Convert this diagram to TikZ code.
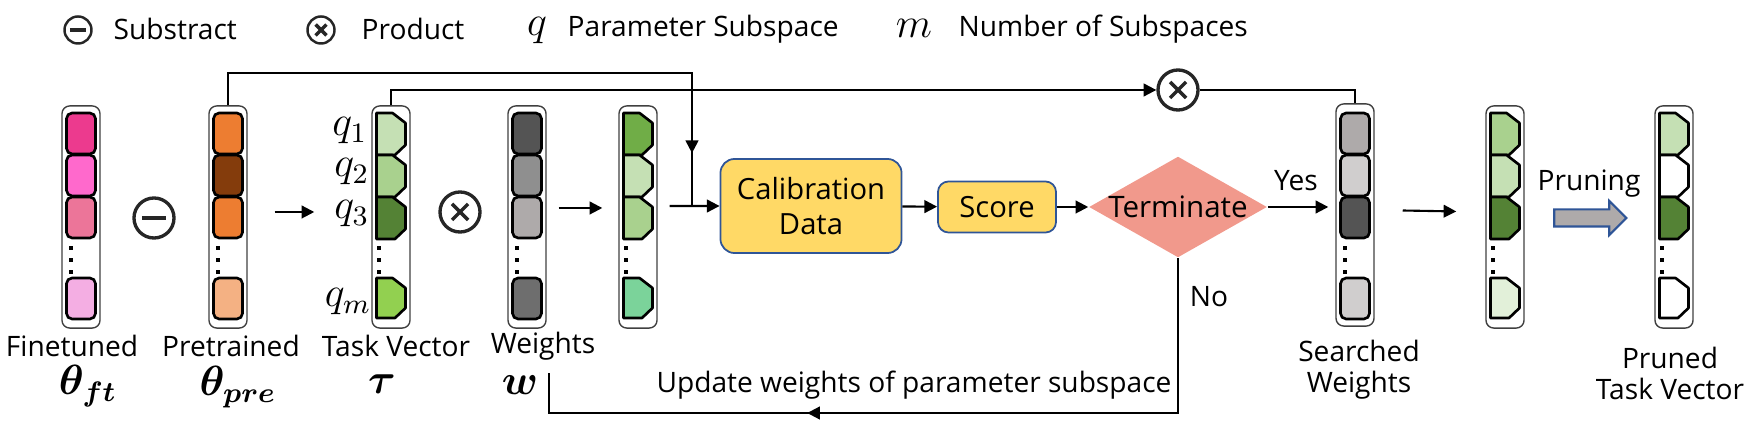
\documentclass[tikz,border=0pt]{standalone}
\usepackage{fontspec}
\setmainfont{Open Sans}
\usepackage{bm}
\usetikzlibrary{arrows.meta,calc,shapes.geometric,shapes.arrows,decorations.markings}

\definecolor{pinkA}{HTML}{EC3A8E}
\definecolor{pinkB}{HTML}{FF69CC}
\definecolor{pinkC}{HTML}{EC7599}
\definecolor{pinkD}{HTML}{F4AEE3}
\definecolor{orangeA}{HTML}{ED7D31}
\definecolor{brownA}{HTML}{843C0C}
\definecolor{orangeB}{HTML}{F4B183}
\definecolor{greenA}{HTML}{C5E0B4}
\definecolor{greenB}{HTML}{A9D18E}
\definecolor{greenC}{HTML}{548235}
\definecolor{greenD}{HTML}{92D050}
\definecolor{greenE}{HTML}{70AD47}
\definecolor{greenF}{HTML}{7BD39A}
\definecolor{greenG}{HTML}{E2F0D9}
\definecolor{grayA}{HTML}{545454}
\definecolor{grayB}{HTML}{8F8F8F}
\definecolor{grayC}{HTML}{AEAAAA}
\definecolor{grayD}{HTML}{6E6E6E}
\definecolor{grayE}{HTML}{D0CECE}
\definecolor{goldA}{HTML}{FFD966}
\definecolor{blueA}{HTML}{2F5597}
\definecolor{salmonA}{HTML}{F1998C}

\tikzset{
  conn/.style={line width=0.6pt},
  arr/.style={conn,-{Triangle[length=3.6pt,width=3.6pt]}},
  vecbox/.style={draw=black!75,line width=0.4pt,rounded corners=2.2pt,minimum width=0.38cm,minimum height=2.22cm,inner sep=0pt},
  sqcell/.style={draw=black,line width=0.75pt,rounded corners=1.6pt},
  tagcell/.style={draw=black,line width=0.75pt,line join=round},
  opnode/.style={circle,draw=black!85,line width=0.95pt,inner sep=0pt,minimum size=0.4cm},
  subop/.style={opnode,path picture={\draw[line width=1.2pt] ($(path picture bounding box.center)!0.6!(path picture bounding box.west)$) -- ($(path picture bounding box.center)!0.6!(path picture bounding box.east)$);}},
  prodop/.style={opnode,path picture={\draw[line width=1pt] ($(path picture bounding box.center)!0.4!(path picture bounding box.north west)$) -- ($(path picture bounding box.center)!0.4!(path picture bounding box.south east)$);
      \draw[line width=1pt] ($(path picture bounding box.center)!0.4!(path picture bounding box.north east)$) -- ($(path picture bounding box.center)!0.4!(path picture bounding box.south west)$);}},
  legendop/.style={minimum size=0.27cm,line width=0.7pt},
  mathlbl/.style={inner sep=0pt,font=\fontsize{11.5}{13}\selectfont},
  proc/.style={draw=blueA,fill=goldA,line width=0.5pt,rounded corners=4pt,inner sep=0pt,align=center},
  decision/.style={diamond,fill=salmonA,inner sep=0pt,minimum width=1.78cm,minimum height=1.01cm},
  prunearrow/.style={single arrow,draw=blueA,fill=grayC,line width=0.6pt,inner sep=0.075cm,single arrow head extend=0.085cm,single arrow head indent=0pt,minimum height=0.72cm},
  midarrow/.style={postaction={decorate},decoration={markings,mark=at position #1 with {\arrow{Triangle[length=3.6pt,width=3.6pt]}}}}
}

% square cells of a column at x=#1
\newcommand{\sqcells}[5]{%
  \foreach \c [count=\i from 0] in {#2,#3,#4}
    \draw[sqcell,fill=\c] (#1-14.5,113+42*\i) rectangle ++(29,41);
  \draw[sqcell,fill=#5] (#1-14.5,278) rectangle ++(29,41);
  \foreach \d in {248,260,272} \fill (#1-12.5,\d-2) rectangle ++(4,4);
}
% chamfered cells of a column at x=#1
\newcommand{\tagcells}[5]{%
  \foreach \c [count=\i from 0] in {#2,#3,#4}
    \draw[tagcell,fill=\c] (#1-14.5,113+42*\i) -- ++(16,0) -- ++(13,10) -- ++(0,22) -- ++(-10.5,10) -- ++(-18.5,0) -- cycle;
  \draw[tagcell,fill=#5] (#1-14.5,278) -- ++(16,0) -- ++(13,10) -- ++(0,20) -- ++(-10.5,10) -- ++(-18.5,0) -- cycle;
  \foreach \d in {248,260,272} \fill (#1-14,\d-2) rectangle ++(4,4);
}

\begin{document}
\begin{tikzpicture}[x=0.01cm,y=-0.01cm,every node/.append style={font=\fontsize{8}{8.8}\selectfont}]
  \useasboundingbox (0,0) rectangle (1758,428);

  % legend
  \node[subop,legendop] (legsub) at (78,30) {};
  \node[anchor=west,inner sep=0pt] (legsubtxt) at (113,29) {Substract};
  \node[prodop,legendop] (legprod) at (321,30) {};
  \node[anchor=west,inner sep=0pt] (legprodtxt) at (361,29) {Product};
  \node[mathlbl] (legq) at (537,31) {$q$};
  \node[anchor=west,inner sep=0pt] (legqtxt) at (567,29) {Parameter Subspace};
  \node[mathlbl] (legm) at (914,28) {$m$};
  \node[anchor=west,inner sep=0pt] (legmtxt) at (958,29) {Number of Subspaces};

  % columns
  \node[vecbox] (finetuned) at (81,217) {};
  \sqcells{81}{pinkA}{pinkB}{pinkC}{pinkD}
  \node[vecbox] (pretrained) at (228,217) {};
  \sqcells{228}{orangeA}{brownA}{orangeA}{orangeB}
  \node[vecbox] (task) at (391,217) {};
  \tagcells{391}{greenA}{greenB}{greenC}{greenD}
  \node[vecbox] (weights) at (527,217) {};
  \sqcells{527}{grayA}{grayB}{grayC}{grayD}
  \node[vecbox] (result) at (638,217) {};
  \tagcells{638}{greenE}{greenA}{greenB}{greenF}
  \node[vecbox] (searched) at (1355,215) {};
  \sqcells{1355}{grayC}{grayE}{grayA}{grayE}
  \node[vecbox] (scaled) at (1505,217) {};
  \tagcells{1505}{greenB}{greenA}{greenC}{greenG}
  \node[vecbox] (pruned) at (1674,217) {};
  \tagcells{1674}{greenA}{white}{greenC}{white}

  % subspace labels
  \node[mathlbl,anchor=east] (q1) at (368,131) {$q_1$};
  \node[mathlbl,anchor=east] (q2) at (370,172) {$q_2$};
  \node[mathlbl,anchor=east] (q3) at (370,214) {$q_3$};
  \node[mathlbl,anchor=east] (qm) at (372,302) {$q_m$};

  % operators
  \node[subop] (sub) at (154,218) {};
  \node[prodop] (prod) at (460,212) {};
  \node[prodop] (prodtop) at (1178,90) {};

  % flow boxes
  \node[proc,minimum width=1.81cm,minimum height=0.94cm,font=\fontsize{8.3}{10}\selectfont] (calib) at (811,206) {Calibration\\Data};
  \node[proc,minimum width=1.18cm,minimum height=0.51cm,rounded corners=3pt,font=\fontsize{8.3}{10}\selectfont] (score) at (997,207) {Score};
  \node[decision,font=\fontsize{8.4}{10}\selectfont] (terminate) at (1178,207) {\makebox[0pt]{Terminate}};
  \node[prunearrow] (prune) at (1586,218) {};

  % bottom labels
  \node[inner sep=0pt] (lblft) at (72,346) {Finetuned};
  \node[mathlbl] (symft) at (88,386) {$\bm{\theta_{ft}}$};
  \node[inner sep=0pt] (lblpre) at (231,346) {Pretrained};
  \node[mathlbl] (sympre) at (238,387) {$\bm{\theta_{pre}}$};
  \node[inner sep=0pt] (lbltask) at (396,346) {Task Vector};
  \node[mathlbl] (symtask) at (382,384) {$\bm{\tau}$};
  \node[inner sep=0pt] (lblw) at (543,346) {Weights};
  \node[mathlbl] (symw) at (520,385) {$\bm{w}$};
  \node[inner sep=0pt,align=center] (lblsearch) at (1359,370) {Searched\\Weights};
  \node[inner sep=0pt,align=center] (lblpruned) at (1670,373) {Pruned\\Task Vector};
  \node[inner sep=0pt] (lblprune) at (1589,184) {Pruning};
  \node[inner sep=0pt] (lblyes) at (1296,181) {Yes};
  \node[inner sep=0pt] (lblno) at (1209,297) {No};
  \node[inner sep=0pt] (lblupd) at (914,385) {Update weights of parameter subspace};

  % helper points
  \coordinate (topa) at (0,73);
  \coordinate (join) at (692,206);
  \coordinate (fbrow) at (0,413);
  \coordinate (wback) at (549,373);

  % connectors
  \draw[arr,shorten <=0.27cm,shorten >=0.57cm] ([yshift=0.05cm]pretrained.east) -- ([yshift=0.05cm]task.west);
  \draw[arr,shorten <=0.12cm,shorten >=0.16cm] ([yshift=0.09cm]weights.east) -- ([yshift=0.09cm]result.west);
  \draw[arr,shorten <=0.12cm] ([yshift=0.11cm]result.east) -- (calib.west);
  \draw[conn,midarrow=0.916] (pretrained.north) |- (join |- topa) -- (join);
  \draw[arr] (task.north) |- (prodtop.west);
  \draw[conn] (prodtop.east) -| (searched.north);
  \draw[arr] (calib) -- (score);
  \draw[arr] (score) -- (terminate);
  \draw[arr,shorten >=0.07cm] (terminate.east) -- (terminate.east -| searched.west);
  \draw[arr,shorten <=0.28cm,shorten >=0.29cm] ([yshift=0.05cm]searched.east) -- ([yshift=0.05cm]scaled.west);
  \draw[conn,midarrow=0.638] (terminate.south) |- (wback |- fbrow) -- (wback);
\end{tikzpicture}
\end{document}
